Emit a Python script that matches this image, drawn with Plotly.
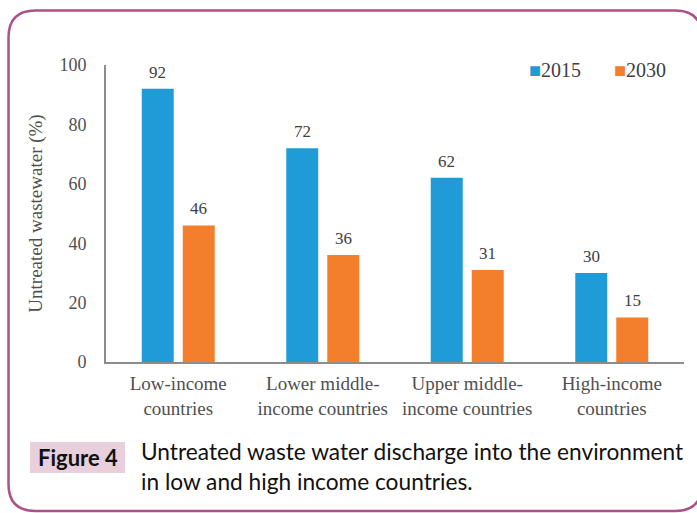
import plotly.graph_objects as go

categories = ["Low-income<br>countries", "Lower middle-<br>income countries",
              "Upper middle-<br>income countries", "High-income<br>countries"]
values_2015 = [92, 72, 62, 30]
values_2030 = [46, 36, 31, 15]
series_names = ["2015", "2030"]
colors = ["#1f9bd7", "#f37e2c"]
y_ticks = [0, 20, 40, 60, 80, 100]

W, H = 697, 513
L, R, T, B = 106, 13, 65, 151
PW, PH = W - L - R, H - T - B


def px(x):
    return (x - L) / PW


def py(y):
    return (H - B - y) / PH


SERIF = "Liberation Serif, Times New Roman, serif"
SANS = "Lato, Carlito, sans-serif"

fig = go.Figure()
for name, vals, col in zip(series_names, [values_2015, values_2030], colors):
    fig.add_trace(go.Bar(x=categories, y=vals, name=name, marker_color=col,
                         marker_line_width=0, showlegend=False))

annotations = []
for vals, sh in zip([values_2015, values_2030], [-20.5, 20.5]):
    for c, v in zip(categories, vals):
        annotations.append(dict(x=c, y=v, xref="x", yref="y", text=str(v),
                                showarrow=False, yanchor="bottom", xshift=sh, yshift=5,
                                font=dict(family=SERIF, size=17, color="#404040")))

# legend (as text)
for name, col, xl in zip(series_names, colors, [527, 612]):
    annotations.append(dict(x=px(xl), y=py(70), xref="paper", yref="paper",
                            xanchor="left", yanchor="middle", showarrow=False,
                            text=f'<span style="color:{col}">■</span>{name}',
                            font=dict(family=SERIF, size=20, color="#404040")))

# caption
annotations.append(dict(x=px(77.5), y=py(457), xref="paper", yref="paper",
                        xanchor="center", yanchor="middle", showarrow=False,
                        text="<b>Figure 4</b>",
                        font=dict(family=SANS, size=22, color="#111111")))
annotations.append(dict(x=px(139), y=py(466), xref="paper", yref="paper",
                        xanchor="left", yanchor="middle", showarrow=False, align="left",
                        text="Untreated waste water discharge into the environment<br>in low and high income countries.",
                        font=dict(family=SANS, size=22.7, color="#111111")))

x0, y0, x1, y1, r = 8.5, 10.5, 702, 511, 27
path = (f"M{px(x0 + r)},{py(y0)} L{px(x1 - r)},{py(y0)} Q{px(x1)},{py(y0)} {px(x1)},{py(y0 + r)} "
        f"L{px(x1)},{py(y1 - r)} Q{px(x1)},{py(y1)} {px(x1 - r)},{py(y1)} "
        f"L{px(x0 + r)},{py(y1)} Q{px(x0)},{py(y1)} {px(x0)},{py(y1 - r)} "
        f"L{px(x0)},{py(y0 + r)} Q{px(x0)},{py(y0)} {px(x0 + r)},{py(y0)} Z")
shapes = [
    dict(type="path", path=path, xref="paper", yref="paper",
         line=dict(color="#ad5289", width=2.5), layer="above"),
    dict(type="rect", xref="paper", yref="paper", x0=px(30), x1=px(125), y0=py(442), y1=py(473),
         fillcolor="#e7cfdc", line=dict(width=0), layer="below"),
]

fig.update_layout(
    width=W, height=H,
    margin=dict(l=L, r=R, t=T, b=B),
    paper_bgcolor="white", plot_bgcolor="white",
    barmode="group", bargap=0.4325, bargroupgap=0.22,
    annotations=annotations, shapes=shapes,
    showlegend=False,
    xaxis=dict(showline=True, linecolor="#8c8c8c", linewidth=2, ticks="",
               tickfont=dict(family=SERIF, size=19, color="#505050"),
               ticklabelstandoff=3, fixedrange=True),
    yaxis=dict(range=[0, 100], tickvals=y_ticks, showline=True, linecolor="#8c8c8c",
               linewidth=2, showgrid=False, zeroline=False, ticks="",
               tickfont=dict(family=SERIF, size=18, color="#505050"),
               ticklabelstandoff=14,
               title=dict(text="Untreated wastewater (%)", standoff=12,
                          font=dict(family=SERIF, size=19, color="#505050"))),
)

fig.write_html("out.html")
